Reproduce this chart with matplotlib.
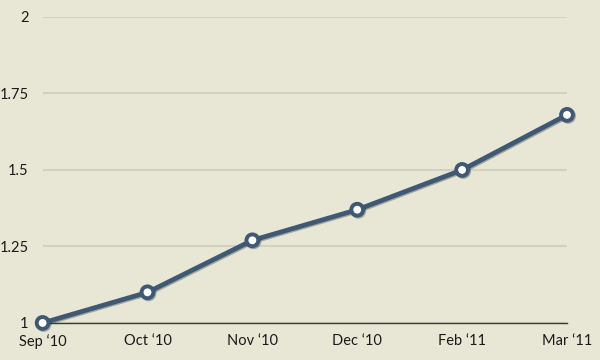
import matplotlib
matplotlib.use("Agg")
import matplotlib.pyplot as plt
import matplotlib.patheffects as pe

months = ["Sep \u201810", "Oct \u201810", "Nov \u201810", "Dec \u201810", "Feb \u201811", "Mar \u201811"]
values = [1.0, 1.10, 1.27, 1.37, 1.50, 1.68]
yticks = [1, 1.25, 1.5, 1.75, 2]
ylabels = ["1", "1.25", "1.5", "1.75", "2"]

bg = "#e8e7d6"
line_col = "#3f5873"

plt.rcParams["font.family"] = ["Lato", "DejaVu Sans"]

fig = plt.figure(figsize=(6, 3.6), dpi=100, facecolor=bg)
ax = fig.add_axes([0.071, 0.103, 0.874, 0.85], facecolor=bg)

x = list(range(len(months)))
ax.plot(x, values, color=line_col, lw=3.4, marker="o", ms=8.5,
        mfc="white", mec=line_col, mew=2.8, clip_on=False, zorder=5,
        path_effects=[pe.SimpleLineShadow(offset=(0.8, -0.8), shadow_color="#1c2b3a", alpha=0.35),
                      pe.Normal()])

ax.set_xlim(0, len(months) - 1)
ax.set_ylim(1, 2)
ax.set_yticks(yticks)
ax.set_yticklabels(ylabels)
ax.set_xticks(x)
ax.set_xticklabels(months)

ax.grid(axis="y", color="#d3d1c2", lw=1.5)
ax.set_axisbelow(True)
for s in ["top", "right", "left"]:
    ax.spines[s].set_visible(False)
ax.spines["bottom"].set_color("#3a3a30")
ax.spines["bottom"].set_linewidth(1)
ax.spines["bottom"].set_zorder(3)

ax.tick_params(axis="both", length=0, labelsize=10.5, colors="#1a1a1a")
ax.tick_params(axis="y", pad=10)
ax.tick_params(axis="x", pad=8)

fig.savefig("out.png", dpi=100, facecolor=bg)
